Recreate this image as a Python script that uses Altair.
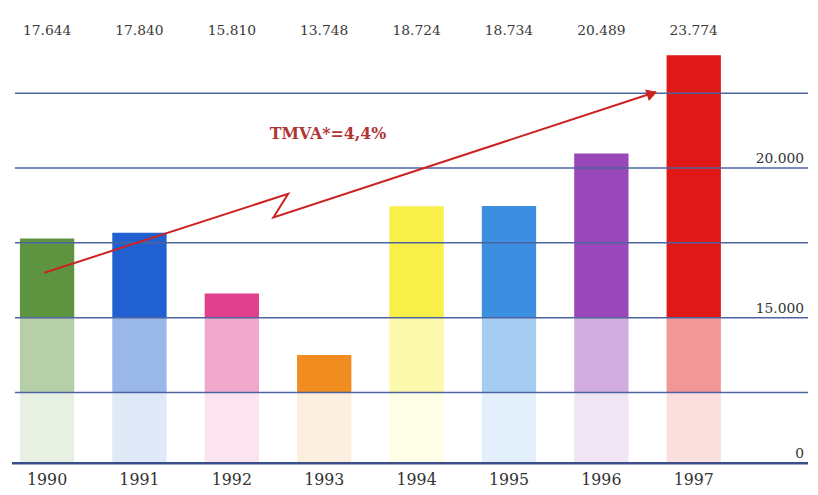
import altair as alt
import pandas as pd

# ---- data ----
years = [1990, 1991, 1992, 1993, 1994, 1995, 1996, 1997]
values = [17644, 17840, 15810, 13748, 18724, 18734, 20489, 23774]
value_labels = ["17.644", "17.840", "15.810", "13.748", "18.724", "18.734", "20.489", "23.774"]
bar_colors = ["#5e9440", "#2060d0", "#e0408c", "#f08c20", "#f8f048", "#3c8ee0", "#9848b8", "#e01818"]

grid_values = [12500, 15000, 17500, 20000, 22500]
axis_label_values = [10130, 15000, 20000]
axis_labels = ["0", "15.000", "20.000"]

arrow_x = [1989.97, 1992.61, 1992.45, 1996.59]
arrow_y = [16500, 19140, 18350, 22540]
arrow_head = (1996.53, 22470)
tmva_text = "TMVA*=4,4%"
tmva_pos = (1993.04, 21150)

BASE = 10130      # the broken axis' "0"
MID = 12500
BRIGHT = 15000

FONT = "DejaVu Serif"

bars = pd.DataFrame({"year": years, "value": values, "label": value_labels, "color": bar_colors})
bars["base"] = BASE
bars["mid"] = MID
bars["bright_low"] = [BRIGHT if v > BRIGHT else MID for v in values]
bars["low_top"] = [min(v, MID) for v in values]

xs = alt.Scale(domain=[1989.6304, 1998.1837], nice=False, zero=False)
ys = alt.Scale(domain=[9404, 25250], nice=False, zero=False)

X = alt.X("year:Q", scale=xs, axis=None)
C = alt.Color("color:N", scale=None, legend=None)

seg_low = alt.Chart(bars).mark_bar(size=55, opacity=0.14).encode(
    x=X, y=alt.Y("base:Q", scale=ys, axis=None), y2="low_top:Q", color=C)
seg_mid = alt.Chart(bars).mark_bar(size=55, opacity=0.45).encode(
    x=X, y=alt.Y("mid:Q", scale=ys, axis=None), y2="bright_low:Q", color=C)
seg_top = alt.Chart(bars).mark_bar(size=55, opacity=1).encode(
    x=X, y=alt.Y("bright_low:Q", scale=ys, axis=None), y2="value:Q", color=C)

grid = alt.Chart(pd.DataFrame({"g": grid_values})).mark_rule(
    color="#4d64a0", strokeWidth=1.5).encode(
    y=alt.Y("g:Q", scale=ys, axis=None), x=alt.value(7), x2=alt.value(810))

baseline = alt.Chart(pd.DataFrame({"b": [BASE]})).mark_rule(
    color="#3a4f8a", strokeWidth=2.5).encode(
    y=alt.Y("b:Q", scale=ys, axis=None), x=alt.value(4), x2=alt.value(810))

right_labels = alt.Chart(pd.DataFrame({"v": axis_label_values, "t": axis_labels})).mark_text(
    align="right", baseline="bottom", dy=-2, font=FONT, fontSize=14, color="#333333").encode(
    y=alt.Y("v:Q", scale=ys, axis=None), x=alt.value(806), text="t:N")

top_labels = alt.Chart(bars).mark_text(
    font=FONT, fontSize=14, color="#3a3a3a", baseline="middle").encode(
    x=X, y=alt.value(20), text="label:N")

year_labels = alt.Chart(bars).mark_text(
    font=FONT, fontSize=16, color="#333333", baseline="middle").encode(
    x=X, y=alt.value(475), text="year:N")

arrow_df = pd.DataFrame({"ax": arrow_x, "ay": arrow_y, "o": list(range(len(arrow_x)))})
arrow = alt.Chart(arrow_df).mark_line(color="#cc2222", strokeWidth=2).encode(
    x=alt.X("ax:Q", scale=xs, axis=None), y=alt.Y("ay:Q", scale=ys, axis=None), order="o:Q")

head = alt.Chart(pd.DataFrame({"hx": [arrow_head[0]], "hy": [arrow_head[1]]})).mark_point(
    shape="triangle", filled=True, size=150, angle=72, color="#cc2222", opacity=1).encode(
    x=alt.X("hx:Q", scale=xs, axis=None), y=alt.Y("hy:Q", scale=ys, axis=None))

tmva = alt.Chart(pd.DataFrame({"tx": [tmva_pos[0]], "ty": [tmva_pos[1]], "t": [tmva_text]})).mark_text(
    font=FONT, fontSize=16, fontWeight="bold", color="#b03535").encode(
    x=alt.X("tx:Q", scale=xs, axis=None), y=alt.Y("ty:Q", scale=ys, axis=None), text="t:N")

chart = alt.layer(
    seg_low, seg_mid, seg_top, grid, baseline, right_labels,
    top_labels, year_labels, arrow, head, tmva
).properties(width=810, height=480, padding=0).configure_view(stroke=None)

chart.save("out.html", embed_options={"renderer": "svg", "actions": False})
